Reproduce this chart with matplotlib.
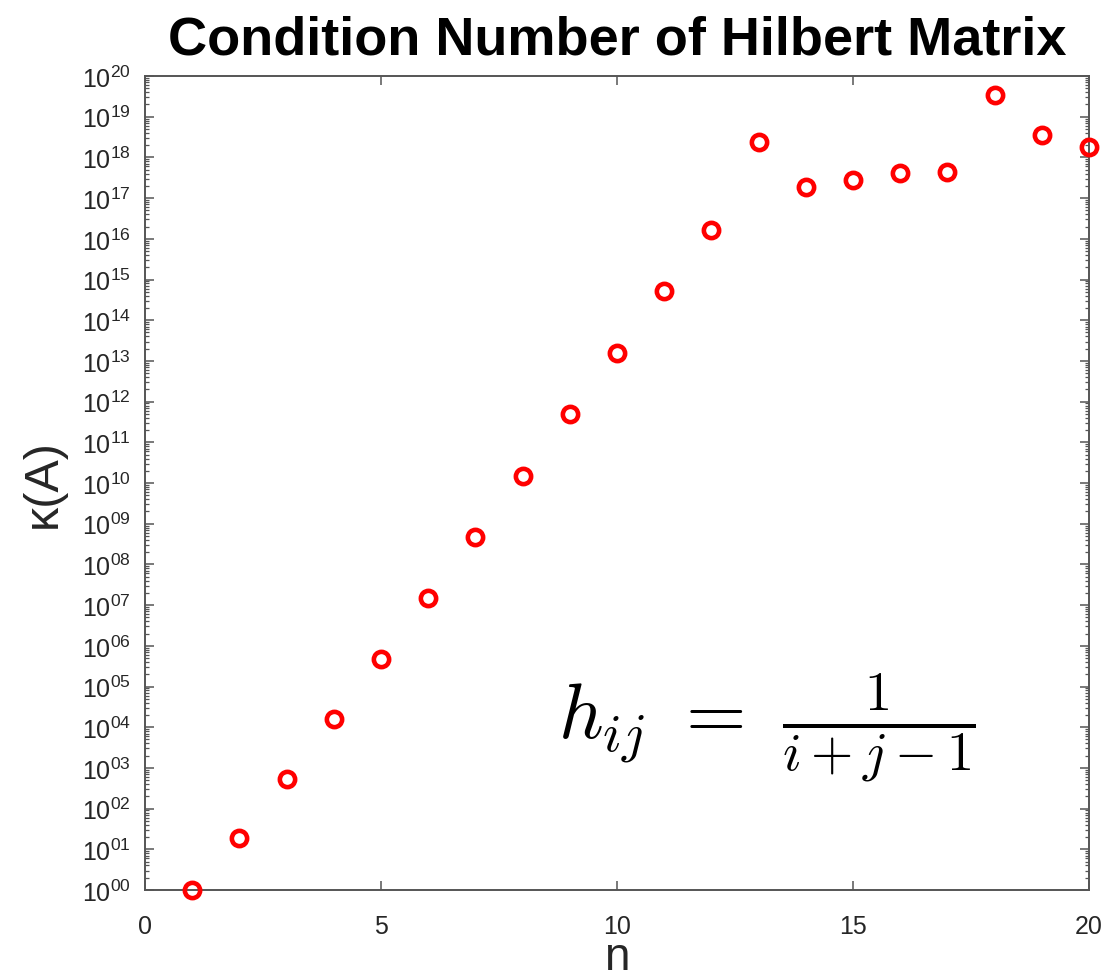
#!/usr/bin/env python3
"""Condition number of the n x n Hilbert matrix, log scale."""

import matplotlib as mpl

mpl.use("Agg")

import matplotlib.pyplot as plt
import matplotlib.ticker as mticker
import numpy as np

N_VALUES = [1, 2, 3, 4, 5, 6, 7, 8, 9, 10, 11, 12, 13, 14, 15, 16, 17, 18, 19, 20]
COND_VALUES = [
    1.0, 19.3, 524.0, 1.55e4, 4.77e5, 1.50e7, 4.75e8, 1.53e10, 4.93e11, 1.60e13,
    5.22e14, 1.68e16, 2.4e18, 1.9e17, 2.8e17, 4.1e17, 4.4e17, 3.4e19, 3.5e18, 1.8e18,
]
X_TICKS = [0, 5, 10, 15, 20]
Y_EXPONENTS = list(range(0, 21))

plt.rcParams["font.family"] = ["Liberation Sans", "DejaVu Sans"]
plt.rcParams["mathtext.fontset"] = "custom"
plt.rcParams["mathtext.rm"] = "Liberation Sans"
plt.rcParams["mathtext.it"] = "Liberation Sans:italic"

AX_COLOR = "#555555"
TXT_COLOR = "#262626"

fig = plt.figure(figsize=(11.18, 9.79), dpi=100)
ax = fig.add_axes([0.1297, 0.0899, 0.8444, 0.8314])

ax.semilogy(N_VALUES, COND_VALUES, linestyle="none", marker="o",
            markersize=11, markerfacecolor="none", markeredgecolor="red",
            markeredgewidth=3.3, clip_on=False, zorder=5)

ax.set_xlim(0, 20)
ax.set_ylim(1, 1e20)
ax.set_xticks(X_TICKS)
ax.xaxis.set_minor_locator(mticker.NullLocator())
ax.yaxis.set_major_locator(mticker.FixedLocator([10.0 ** e for e in Y_EXPONENTS]))
ax.yaxis.set_minor_locator(mticker.LogLocator(base=10, subs=np.arange(2, 10), numticks=100))
ax.yaxis.set_minor_formatter(mticker.NullFormatter())
ax.yaxis.set_major_formatter(
    mticker.FuncFormatter(lambda v, _: r"$\mathregular{10^{%02d}}$" % round(np.log10(v)))
)

for s in ax.spines.values():
    s.set_color(AX_COLOR)
    s.set_linewidth(1.4)
ax.tick_params(which="both", direction="in", top=True, right=True,
               color=AX_COLOR, labelcolor=TXT_COLOR)
ax.tick_params(which="major", length=6.5, width=1.1)
ax.tick_params(which="minor", length=3.2, width=0.9)
ax.tick_params(axis="x", pad=17, labelsize=18)
ax.tick_params(axis="y", pad=10, labelsize=18)

ax.set_title("Condition Number of Hilbert Matrix", fontsize=39,
             fontweight="bold", pad=16)
ax.set_xlabel("n", fontsize=33, color=TXT_COLOR, labelpad=-2)
ax.set_ylabel("κ(A)", fontsize=35, color=TXT_COLOR, labelpad=12)

ax.text(0.658, 0.2, r"$h_{ij}\ =\ \frac{1}{i+j-1}$",
        transform=ax.transAxes, ha="center", va="center", fontsize=56,
        math_fontfamily="cm")

fig.savefig("out.png", dpi=100, facecolor="white")
